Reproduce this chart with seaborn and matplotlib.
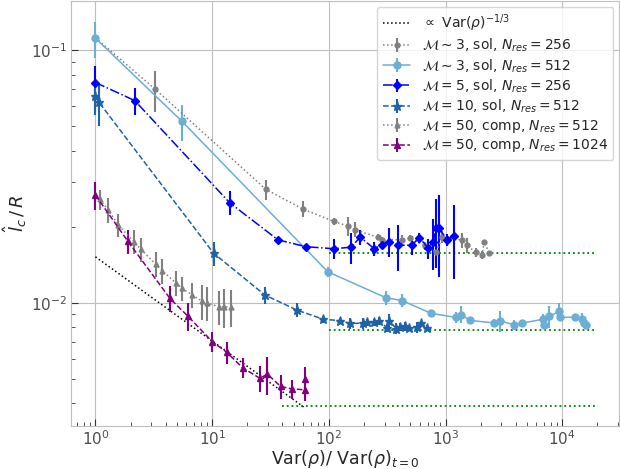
import numpy as np
import pandas as pd
import matplotlib
matplotlib.use("Agg")
import matplotlib.pyplot as plt
import seaborn as sns

# --- data (x = Var(rho)/Var(rho)_t0, y = l_c/R) ---
pl_x = [1.0, 62.0]
pl_y = [0.0152, 0.00384]

m3_256_x = [1.0, 3.25, 28.9, 60, 110, 147, 166, 263, 287, 426, 495, 666, 832, 937,
            1048, 1374, 1517, 1812, 2050, 2147, 2368]
m3_256_y = [0.112, 0.0701, 0.0281, 0.0235, 0.0210, 0.0201, 0.0195, 0.01815, 0.0178,
            0.01775, 0.0180, 0.01675, 0.0159, 0.01824, 0.0179, 0.01775, 0.0169,
            0.01582, 0.01545, 0.01744, 0.0157]
m3_256_e = [0.0, 0.013, 0.0025, 0.0017, 0.0006, 0.0017, 0.0013, 0.0005, 0.0004,
            0.0008, 0.0005, 0.0006, 0.0005, 0.001, 0.0005, 0.0012, 0.0012, 0.0007,
            0.0006, 0.0003, 0.0003]

m3_512_x = [1.0, 5.51, 97.7, 308, 425, 750, 1222, 1348, 1630, 2600, 2925, 3880, 4490,
            6790, 6960, 7690, 9420, 9500, 12850, 14650, 15350, 15860]
m3_512_y = [0.1116, 0.0523, 0.01327, 0.01047, 0.0102, 0.00908, 0.00875, 0.00898,
            0.00851, 0.00832, 0.00847, 0.00818, 0.0083, 0.0086, 0.00817, 0.00883,
            0.00925, 0.00875, 0.00877, 0.0086, 0.00833, 0.00814]
m3_512_e = [0.018, 0.0085, 0.0006, 0.0007, 0.0006, 0.0003, 0.0004, 0.0007, 0.0003,
            0.0003, 0.0008, 0.0004, 0.0002, 0.0004, 0.0003, 0.0009, 0.0007, 0.0002,
            0.0002, 0.0005, 0.0002, 0.0002]

m5_256_x = [1.0, 2.17, 14.1, 36.6, 63.6, 110, 156, 185, 245, 283, 325, 394, 512, 595,
            711, 785, 828, 878, 1035, 1181]
m5_256_y = [0.0745, 0.0632, 0.0249, 0.01775, 0.01667, 0.01637, 0.0166, 0.0182,
            0.01637, 0.0170, 0.01744, 0.0169, 0.0169, 0.0181, 0.01645, 0.01744,
            0.0197, 0.0197, 0.01775, 0.0184]
m5_256_e = [0.012, 0.008, 0.0027, 0.0005, 0.0004, 0.0015, 0.0023, 0.0012, 0.001,
            0.0006, 0.0023, 0.0035, 0.0015, 0.0008, 0.0015, 0.004, 0.006, 0.007,
            0.001, 0.006]

m10_512_x = [1.0, 1.07, 10.3, 28.3, 53.3, 89.6, 124, 152, 195, 211, 242, 270, 315,
             330, 378, 407, 449, 486, 572, 612, 689]
m10_512_y = [0.0656, 0.0623, 0.0157, 0.01073, 0.00935, 0.0086, 0.0085, 0.00829,
             0.00829, 0.00836, 0.00836, 0.00847, 0.00796, 0.0085, 0.00789, 0.00802,
             0.00806, 0.00796, 0.00802, 0.00829, 0.00796]
m10_512_e = [0.01, 0.012, 0.0017, 0.0008, 0.0006, 0.0003, 0.0002, 0.0004, 0.0004,
             0.0003, 0.0003, 0.0003, 0.0003, 0.0005, 0.0004, 0.0003, 0.0003, 0.0002,
             0.0004, 0.0002, 0.0002]

m50_512_x = [1.09, 1.29, 1.57, 2.14, 2.45, 3.28, 3.73, 4.86, 5.51, 6.75, 8.13, 9.02,
             11.4, 12.6, 14.4]
m50_512_y = [0.02566, 0.0233, 0.0203, 0.01744, 0.01627, 0.01422, 0.01338, 0.012,
             0.0114, 0.01073, 0.01016, 0.0100, 0.00964, 0.00964, 0.0096]
m50_512_e = [0.0024, 0.0026, 0.0021, 0.0019, 0.0018, 0.0016, 0.0015, 0.0014, 0.0012,
             0.0012, 0.0016, 0.0015, 0.0015, 0.0017, 0.0016]

m50_1024_x = [1.0, 1.89, 4.35, 6.17, 10.0, 13.3, 18.2, 25.7, 29.7, 38.6, 48.3, 62.4, 62.4]
m50_1024_y = [0.0267, 0.01754, 0.0104, 0.00886, 0.00702, 0.00637, 0.00553, 0.00502,
              0.00522, 0.00466, 0.00456, 0.00452, 0.00498]
m50_1024_e = [0.0035, 0.0019, 0.0012, 0.0011, 0.00063, 0.00064, 0.0005, 0.00058,
              0.0009, 0.0005, 0.0004, 0.00045, 0.0006]

# saturation levels (green dotted)
sat_y = [0.0157, 0.0078, 0.0039]
sat_x0 = [100, 100, 40]
sat_x1 = [2e4, 2e4, 2e4]

sns.set_style("whitegrid", {
    "axes.edgecolor": "0.75",
    "grid.color": "0.75",
    "xtick.bottom": True,
    "ytick.left": True,
})
plt.rcParams["xtick.minor.visible"] = True
plt.rcParams["ytick.minor.visible"] = True

fig = plt.figure(figsize=(6.2, 4.69), dpi=100)
ax = fig.add_axes([71 / 620, 43 / 469, 548 / 620, 424.5 / 469])

pl = pd.DataFrame({"x": pl_x, "y": pl_y})
sns.lineplot(data=pl, x="x", y="y", ax=ax, color="black", linestyle=":", lw=1.1,
             label=r"$\propto$ Var$(\rho)^{-1/3}$")
for y0, a, b in zip(sat_y, sat_x0, sat_x1):
    ax.plot([a, b], [y0, y0], color="green", linestyle=":", lw=1.3, label="_nolegend_")

series = [
    (m3_256_x, m3_256_y, m3_256_e, "gray", ":", "o", 3.5,
     r"$\mathcal{M}\sim3$, sol, $N_{res}=256$"),
    (m3_512_x, m3_512_y, m3_512_e, "#6baed6", "-", "o", 5,
     r"$\mathcal{M}\sim3$, sol, $N_{res}=512$"),
    (m5_256_x, m5_256_y, m5_256_e, "blue", "-.", "D", 4,
     r"$\mathcal{M}=5$, sol, $N_{res}=256$"),
    (m10_512_x, m10_512_y, m10_512_e, "#1f62a8", "--", "*", 6.5,
     r"$\mathcal{M}=10$, sol, $N_{res}=512$"),
    (m50_512_x, m50_512_y, m50_512_e, "gray", ":", "^", 3.5,
     r"$\mathcal{M}=50$, comp, $N_{res}=512$"),
    (m50_1024_x, m50_1024_y, m50_1024_e, "purple", "--", "^", 5,
     r"$\mathcal{M}=50$, comp, $N_{res}=1024$"),
]
for x, y, e, c, ls, mk, ms, lab in series:
    ax.errorbar(x, y, yerr=e, color=c, linestyle=ls, marker=mk, markersize=ms,
                lw=1.1, elinewidth=1.5, capsize=0, label=lab)

ax.set_xscale("log")
ax.set_yscale("log")
ax.set_xlim(0.617, 3.06e4)
ax.set_ylim(3.25e-3, 0.156)
ax.grid(True, which="major")
ax.grid(False, which="minor")
ax.tick_params(which="both", direction="in", color="0.2", labelsize=11,
               labelcolor="0.3", pad=2.5)
ax.tick_params(which="major", length=5)
ax.tick_params(which="minor", length=3)

ax.set_xlabel(r"Var$(\rho)$/ Var$(\rho)_{t=0}$", fontsize=12.5, labelpad=0)
ax.set_ylabel(r"$\hat{l}_c\,/\,R$", fontsize=13, labelpad=2)

ax.legend(loc="upper right", fontsize=10, frameon=True, borderaxespad=0.4,
          labelspacing=0.2)

fig.savefig("out.png", dpi=100)
